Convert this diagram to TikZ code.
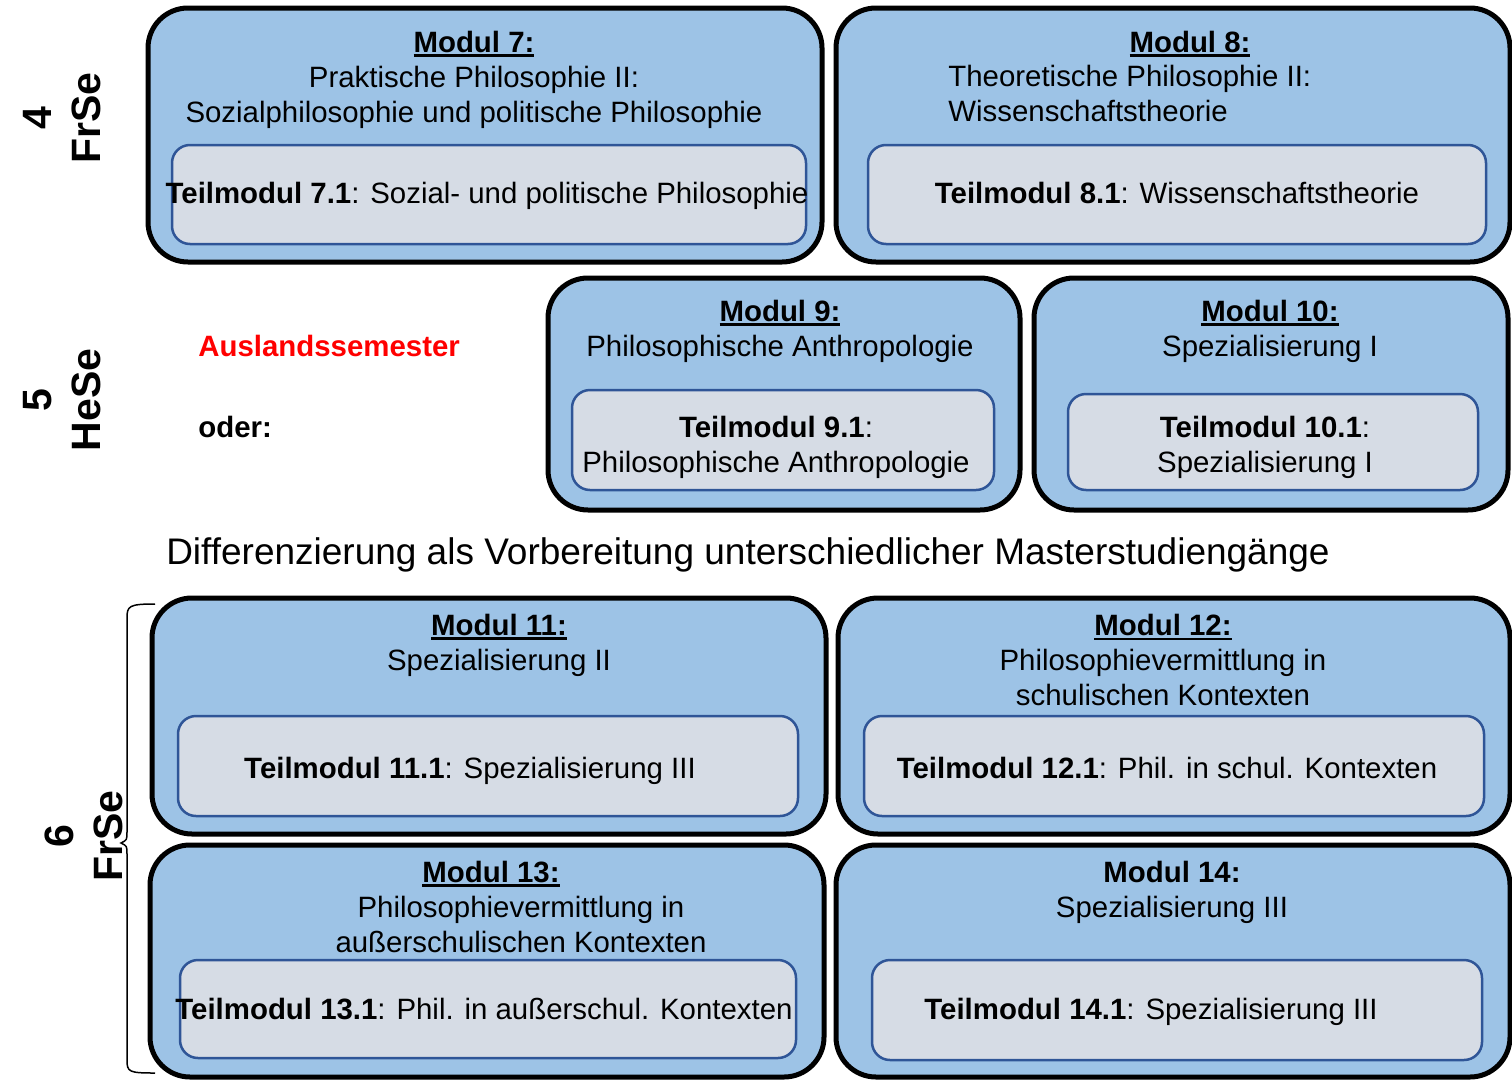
\documentclass[tikz,border=0pt]{standalone}
\usepackage{fontspec}
\setmainfont{Liberation Sans}
\definecolor{modblue}{HTML}{9DC3E6}
\definecolor{teilgray}{HTML}{D6DCE5}
\definecolor{teilline}{HTML}{2F5597}
\newcommand\ulb[1]{\setbox0\hbox{\bfseries #1}\rlap{\rule[-4.5pt]{\wd0}{2.5pt}}\box0}
\newcommand\txt{\fontsize{29.4}{35}\selectfont}

\begin{document}
\begin{tikzpicture}[x=1pt, y=-1pt, thick,
    modul/.style = {draw, line width=5pt, fill=modblue, rounded corners=40pt, inner sep=0pt},
    teil/.style = {draw=teilline, line width=2.5pt, fill=teilgray, rounded corners=18pt, inner sep=0pt},
    lbl/.style = {font=\txt, align=center, inner sep=0pt},
    sem/.style = {font=\fontsize{41}{49}\selectfont\bfseries, align=center, rotate=90, inner sep=0pt}]
    \useasboundingbox (0,0) rectangle (1512,1079);
    % Module
    \node[modul] (m7) [minimum width=674, minimum height=254] at (485,135) {};
    \node[modul] (m8) [minimum width=674, minimum height=254] at (1173,135) {};
    \node[modul] (m9) [minimum width=472, minimum height=232] at (784,394) {};
    \node[modul] (m10) [minimum width=474, minimum height=232] at (1271,394) {};
    \node[modul] (m11) [minimum width=674, minimum height=236] at (489,716) {};
    \node[modul] (m12) [minimum width=672, minimum height=236] at (1174,716) {};
    \node[modul] (m13) [minimum width=674, minimum height=232] at (487,961) {};
    \node[modul] (m14) [minimum width=674, minimum height=232] at (1173,961) {};
    % Teilmodule
    \node[teil] (t7) [minimum width=634, minimum height=99] at (489,194.5) {};
    \node[teil] (t8) [minimum width=618, minimum height=99] at (1177,194.5) {};
    \node[teil] (t9) [minimum width=422, minimum height=100] at (783,440) {};
    \node[teil] (t10) [minimum width=410, minimum height=96] at (1273,442) {};
    \node[teil] (t11) [minimum width=620, minimum height=100] at (488,766) {};
    \node[teil] (t12) [minimum width=620, minimum height=100] at (1174,766) {};
    \node[teil] (t13) [minimum width=616, minimum height=98] at (488,1009) {};
    \node[teil] (t14) [minimum width=610, minimum height=100] at (1177,1010) {};
    % Titel
    \node[lbl] (k7) at (474,79.5) {\ulb{Modul 7:}\\Praktische Philosophie II:\\Sozialphilosophie und politische Philosophie};
    \node[lbl] (k8) at (1190,44) {\ulb{Modul 8:}};
    \node[lbl, align=left, anchor=west] (k8b) at (948,93.5) {Theoretische Philosophie II:\\Wissenschaftstheorie};
    \node[lbl] (k9) at (780,331) {\ulb{Modul 9:}\\Philosophische Anthropologie};
    \node[lbl] (k10) at (1270,331) {\ulb{Modul 10:}\\Spezialisierung I};
    \node[lbl] (k11) at (499,645) {\ulb{Modul 11:}\\Spezialisierung II};
    \node[lbl] (k12) at (1163,660) {\ulb{Modul 12:}\\Philosophievermittlung in\\schulischen Kontexten};
    \node[lbl] (k13) at (491,874) {\ulb{Modul 13:}};
    \node[lbl] (k13b) at (521,924) {Philosophievermittlung in\\außerschulischen Kontexten};
    \node[lbl] (k14) at (1172,892) {\textbf{Modul 14:}\\Spezialisierung III};
    \node[lbl] (l7) at (487,196) {\textbf{Teilmodul 7.1}: Sozial- und politische Philosophie};
    \node[lbl] (l8) at (1177,193) {\textbf{Teilmodul 8.1}: Wissenschaftstheorie};
    \node[lbl] (l9) at (776,447.5) {\textbf{Teilmodul 9.1}:\\Philosophische Anthropologie};
    \node[lbl] (l10) at (1265,447.5) {\textbf{Teilmodul 10.1}:\\Spezialisierung I};
    \node[lbl] (l11) at (470,771) {\textbf{Teilmodul 11.1}: Spezialisierung III};
    \node[lbl] (l12) at (1167,768) {\textbf{Teilmodul 12.1}: Phil. in schul. Kontexten};
    \node[lbl] (l13) at (484,1009) {\textbf{Teilmodul 13.1}: Phil. in außerschul. Kontexten};
    \node[lbl] (l14) at (1151,1012) {\textbf{Teilmodul 14.1}: Spezialisierung III};
    % Semester
    \node[sem] (s4) at (62,118) {4\\FrSe};
    \node[sem] (s5) at (62,400) {5\\HeSe};
    \node[sem] (s6) at (84,836) {6\\FrSe};
    \node[lbl, anchor=west, font=\txt\bfseries, text=red] (ausl) at (198,346) {Auslandssemester};
    \node[lbl, anchor=west, font=\txt\bfseries] (oder) at (198,427) {oder:};
    \node[lbl, font=\fontsize{37}{44}\selectfont] (diff) at (748,555) {Differenzierung als Vorbereitung unterschiedlicher Masterstudiengänge};
    % Klammer
    \draw[line width=1.5pt] (155,604) .. controls (129,604) and (127,606) .. (127,618) -- (127,832)
        .. controls (127,840) .. (121,843) .. controls (127,846) .. (127,854) -- (127,1060)
        .. controls (127,1072) and (129,1073) .. (155,1073);
\end{tikzpicture}
\end{document}
